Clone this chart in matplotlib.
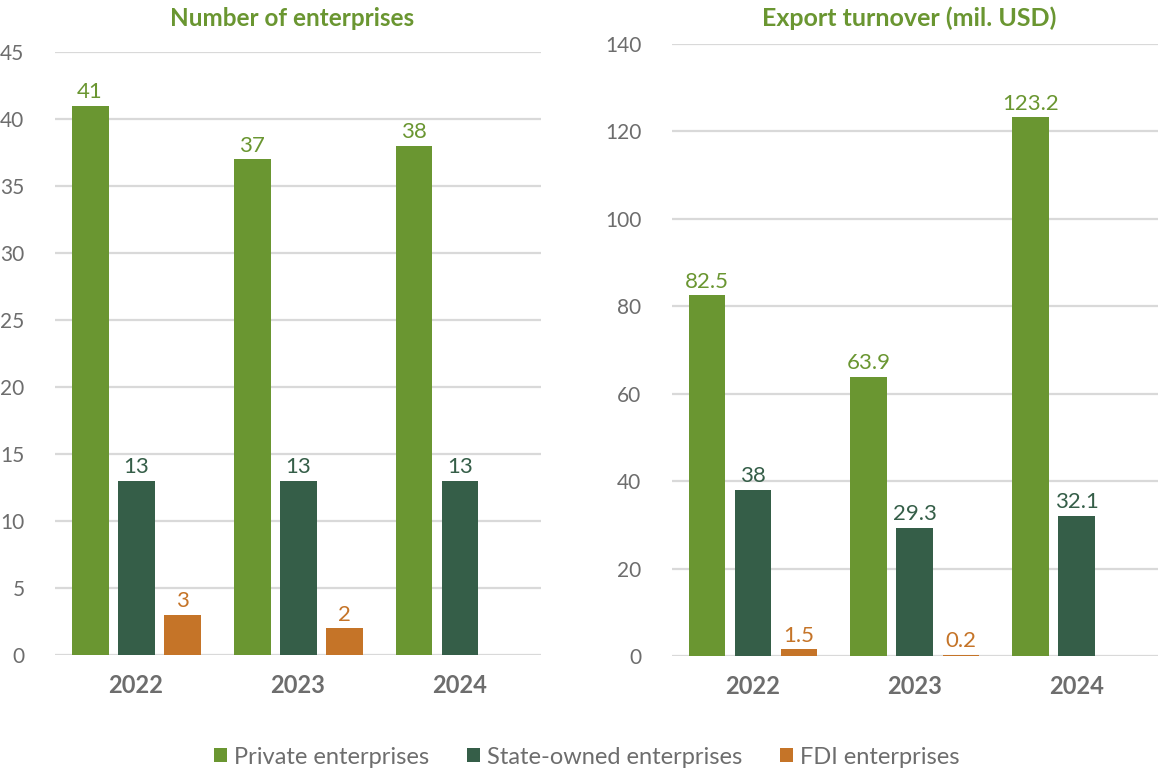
import matplotlib.pyplot as plt
import numpy as np

plt.rcParams['font.family'] = ['Lato', 'DejaVu Sans']

years = ['2022', '2023', '2024']
series = ['Private enterprises', 'State-owned enterprises', 'FDI enterprises']
colors = ['#6a9631', '#355e48', '#c57428']

# number of enterprises by ownership type
count_private = [41, 37, 38]
count_state = [13, 13, 13]
count_fdi = [3, 2, np.nan]

# export turnover, million USD
export_private = [82.5, 63.9, 123.2]
export_state = [38, 29.3, 32.1]
export_fdi = [1.5, 0.2, np.nan]

grid_color = '#d9d9d9'
tick_color = '#6d6d6d'
title_color = '#6a9631'

fig = plt.figure(figsize=(11.64, 7.69), dpi=100)
ax1 = fig.add_axes([0.0473, 0.1482, 0.4175, 0.7841])
ax2 = fig.add_axes([0.5773, 0.1470, 0.4175, 0.7958])


def draw_panel(ax, data, ymax, step, fmt):
    x = np.arange(len(years))
    width = 0.228
    offsets = [-0.284, 0, 0.284]
    for vals, off, col, name in zip(data, offsets, colors, series):
        bars = ax.bar(x + off, vals, width, color=col, label=name, zorder=3)
        for b, v in zip(bars, vals):
            if np.isnan(v):
                continue
            ax.text(b.get_x() + b.get_width() / 2, v + ymax * 0.006, fmt(v),
                    ha='center', va='bottom', fontsize=16, color=col)
    ax.set_xlim(-0.5, 2.5)
    ax.set_ylim(0, ymax)
    ax.set_yticks(np.arange(0, ymax + 0.1, step))
    ax.yaxis.grid(True, color=grid_color, linewidth=1.6, zorder=0)
    ax.set_axisbelow(True)
    for s in ax.spines.values():
        s.set_visible(False)
    ax.tick_params(axis='y', length=0, labelsize=15, labelcolor=tick_color, pad=22)
    ax.tick_params(axis='x', length=0, labelsize=17, labelcolor=tick_color, pad=14)
    ax.set_xticks(x)
    ax.set_xticklabels(years, fontweight='bold')


def fmt_num(v):
    return f'{v:g}'


draw_panel(ax1, [count_private, count_state, count_fdi], 45, 5, fmt_num)
draw_panel(ax2, [export_private, export_state, export_fdi], 140, 20, fmt_num)

# panel titles
fig.text(292 / 1164, 1 - 18 / 769, 'Number of enterprises', ha='center',
         va='center', fontsize=17.5, fontweight='bold', color=title_color)
fig.text(909 / 1164, 1 - 18 / 769, 'Export turnover (mil. USD)', ha='center',
         va='center', fontsize=18, fontweight='bold', color=title_color)

handles, labels = ax1.get_legend_handles_labels()
fig.legend(handles, labels, loc='center', bbox_to_anchor=(587 / 1164, 1 - 757 / 769),
           ncol=3, frameon=False, fontsize=17, handlelength=0.55,
           handleheight=0.55, handletextpad=0.3, columnspacing=1.6,
           labelcolor=tick_color)

fig.savefig('out.png', dpi=100)
